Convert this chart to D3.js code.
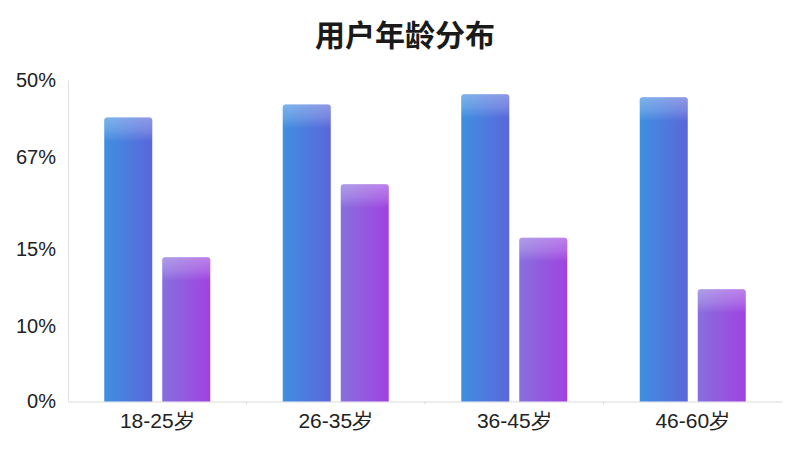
<!DOCTYPE html>
<html>
<head>
<meta charset="utf-8">
<script src="https://cdn.jsdelivr.net/npm/d3@7"></script>
<style>
  body { margin: 0; background: #fff; }
  svg { display: block; font-family: "Noto Sans CJK SC", "Noto Sans", sans-serif; }
</style>
</head>
<body>
<div id="chart"></div>
<script>
// values (axis runs 0..100, tick labels are as printed)
const categories = ['18-25岁', '26-35岁', '36-45岁', '46-60岁'];
const seriesA = [88.3, 92.4, 95.6, 94.6];
const seriesB = [44.9, 67.6, 50.9, 34.9];
const tickValues = [0, 23.3, 47.4, 76.1, 100];
const tickLabels = ['0%', '10%', '15%', '67%', '50%'];

const width = 800, height = 450;
const margin = { top: 80, right: 18, bottom: 48.5, left: 68 };

const svg = d3.select('#chart').append('svg').attr('width', width).attr('height', height);

// gradients
const defs = svg.append('defs');
function hGrad(id, c0, c1) {
  const g = defs.append('linearGradient').attr('id', id).attr('x1', 0).attr('x2', 1).attr('y1', 0).attr('y2', 0);
  g.append('stop').attr('offset', '0%').attr('stop-color', c0);
  g.append('stop').attr('offset', '100%').attr('stop-color', c1);
}
hGrad('gradA', '#3e90e1', '#5b66da');
hGrad('gradB', '#8670dd', '#a042e1');
const hl = defs.append('linearGradient').attr('id', 'shine').attr('x1', 0).attr('x2', 0).attr('y1', 0).attr('y2', 1);
hl.append('stop').attr('offset', '0%').attr('stop-color', '#fff').attr('stop-opacity', 0.32);
hl.append('stop').attr('offset', '55%').attr('stop-color', '#fff').attr('stop-opacity', 0.18);
hl.append('stop').attr('offset', '100%').attr('stop-color', '#fff').attr('stop-opacity', 0);

const x = d3.scaleBand().domain(categories).range([margin.left, width - margin.right]).paddingInner(0).paddingOuter(0);
const y = d3.scaleLinear().domain([0, 100]).range([height - margin.bottom, margin.top]);

const barW = 48, gap = 10;

// title
svg.append('text')
  .attr('x', 405).attr('y', 46)
  .attr('text-anchor', 'middle')
  .style('font-size', '30px').style('font-weight', 'bold').style('fill', '#1a1a1a')
  .text('用户年龄分布');

// y axis
const yAxis = d3.axisLeft(y).tickValues(tickValues).tickFormat((d, i) => tickLabels[i]).tickSize(0).tickPadding(12);
const gy = svg.append('g').attr('transform', `translate(${margin.left},0)`).call(yAxis);
gy.select('.domain').attr('stroke', '#e2e2e2');
gy.selectAll('text').style('font-size', '20px').style('fill', '#222').style('font-family', '"Liberation Sans", Arial, sans-serif');

// x axis
const xAxis = d3.axisBottom(x).tickSize(0).tickPadding(12);
const gx = svg.append('g').attr('transform', `translate(0,${y(0)})`).call(xAxis);
gx.select('.domain').attr('stroke', '#dcdcdc');
gx.selectAll('text').style('font-size', '21px').style('fill', '#222');
// small boundary ticks between categories
gx.selectAll('line.sep').data(categories.slice(1)).join('line').attr('class', 'sep')
  .attr('x1', d => x(d)).attr('x2', d => x(d)).attr('y1', 0).attr('y2', 3).attr('stroke', '#ddd');

function roundTop(x0, y0, w, h, r) {
  return `M${x0},${y0 + h}V${y0 + r}Q${x0},${y0} ${x0 + r},${y0}H${x0 + w - r}Q${x0 + w},${y0} ${x0 + w},${y0 + r}V${y0 + h}Z`;
}

const bars = categories.map((c, i) => [
  { c, v: seriesA[i], k: 0 },
  { c, v: seriesB[i], k: 1 }
]).flat();

function bx(d) {
  const center = x(d.c) + x.bandwidth() / 2;
  return d.k === 0 ? center - gap / 2 - barW : center + gap / 2;
}

const g = svg.append('g');
g.selectAll('path.bar').data(bars).join('path').attr('class', 'bar')
  .attr('d', d => roundTop(bx(d), y(d.v), barW, y(0) - y(d.v), 3))
  .attr('fill', d => d.k === 0 ? 'url(#gradA)' : 'url(#gradB)');

// soft light band on top of each bar
g.selectAll('path.shine').data(bars).join('path').attr('class', 'shine')
  .attr('d', d => roundTop(bx(d), y(d.v), barW, 24, 3))
  .attr('fill', 'url(#shine)');
</script>
</body>
</html>
